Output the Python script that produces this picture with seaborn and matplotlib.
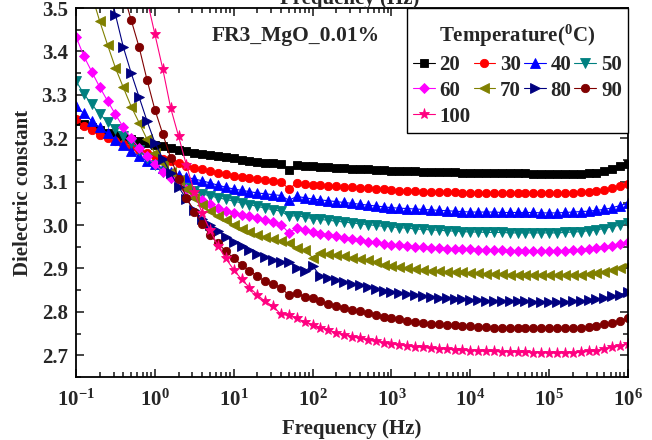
import numpy as np
import pandas as pd
import matplotlib
matplotlib.use('Agg')
import matplotlib.pyplot as plt
import seaborn as sns
from matplotlib.lines import Line2D
from matplotlib.ticker import LogLocator, MultipleLocator, FuncFormatter, NullFormatter

# frequency sweep of the analyser: 10 points per decade, 0.1 Hz .. 1 MHz
freq = np.logspace(-1, 6, 71)
decades = [1e-1, 1e0, 1e1, 1e2, 1e3, 1e4, 1e5, 1e6]

temps = ['20', '30', '40', '50', '60', '70', '80', '90', '100']

eps_20 = [3.240, 3.232, 3.225, 3.218, 3.213, 3.208, 3.203, 3.198, 3.193, 3.189,
          3.185, 3.181, 3.177, 3.173, 3.170, 3.167, 3.164, 3.161, 3.158, 3.156,
          3.154, 3.151, 3.148, 3.146, 3.144, 3.142, 3.140, 3.127, 3.139, 3.137,
          3.135, 3.134, 3.133, 3.132, 3.131, 3.130, 3.129, 3.128, 3.127, 3.126,
          3.125, 3.125, 3.124, 3.124, 3.123, 3.123, 3.123, 3.122, 3.122, 3.120,
          3.120, 3.120, 3.120, 3.120, 3.120, 3.120, 3.120, 3.119, 3.118, 3.117,
          3.117, 3.117, 3.117, 3.117, 3.118, 3.119, 3.121, 3.125, 3.130, 3.135,
          3.140]
eps_30 = [3.245, 3.228, 3.218, 3.208, 3.200, 3.193, 3.186, 3.180, 3.173, 3.166,
          3.160, 3.153, 3.147, 3.142, 3.137, 3.132, 3.128, 3.124, 3.120, 3.117,
          3.114, 3.111, 3.108, 3.105, 3.103, 3.101, 3.100, 3.083, 3.097, 3.095,
          3.093, 3.092, 3.090, 3.089, 3.088, 3.087, 3.086, 3.085, 3.084, 3.082,
          3.080, 3.079, 3.078, 3.078, 3.077, 3.077, 3.076, 3.076, 3.076, 3.075,
          3.075, 3.075, 3.074, 3.074, 3.074, 3.074, 3.073, 3.073, 3.073, 3.073,
          3.073, 3.073, 3.074, 3.075, 3.076, 3.077, 3.079, 3.081, 3.085, 3.089,
          3.094]
eps_40 = [3.274, 3.257, 3.240, 3.225, 3.211, 3.197, 3.184, 3.170, 3.158, 3.148,
          3.140, 3.131, 3.123, 3.116, 3.110, 3.106, 3.102, 3.097, 3.092, 3.087,
          3.083, 3.080, 3.077, 3.074, 3.072, 3.070, 3.068, 3.057, 3.066, 3.063,
          3.060, 3.058, 3.056, 3.054, 3.052, 3.050, 3.048, 3.046, 3.044, 3.042,
          3.040, 3.039, 3.038, 3.037, 3.036, 3.035, 3.034, 3.033, 3.032, 3.031,
          3.030, 3.030, 3.030, 3.030, 3.029, 3.029, 3.029, 3.029, 3.029, 3.028,
          3.028, 3.028, 3.029, 3.030, 3.031, 3.032, 3.034, 3.036, 3.040, 3.045,
          3.050]
eps_50 = [3.332, 3.302, 3.278, 3.256, 3.238, 3.222, 3.205, 3.190, 3.172, 3.155,
          3.138, 3.123, 3.108, 3.096, 3.086, 3.078, 3.072, 3.067, 3.063, 3.059,
          3.055, 3.051, 3.047, 3.043, 3.039, 3.035, 3.032, 3.020, 3.022, 3.018,
          3.015, 3.013, 3.011, 3.009, 3.007, 3.005, 3.003, 3.001, 2.999, 2.997,
          2.996, 2.994, 2.993, 2.991, 2.990, 2.989, 2.988, 2.987, 2.986, 2.985,
          2.984, 2.984, 2.983, 2.983, 2.983, 2.982, 2.982, 2.982, 2.982, 2.982,
          2.982, 2.982, 2.983, 2.984, 2.985, 2.987, 2.989, 2.992, 2.996, 3.000,
          3.005]
eps_60 = [3.434, 3.389, 3.353, 3.318, 3.286, 3.255, 3.225, 3.200, 3.178, 3.158,
          3.140, 3.123, 3.108, 3.094, 3.082, 3.070, 3.058, 3.048, 3.040, 3.033,
          3.028, 3.024, 3.020, 3.016, 3.012, 3.007, 3.001, 2.982, 2.993, 2.988,
          2.984, 2.980, 2.977, 2.974, 2.971, 2.968, 2.965, 2.962, 2.960, 2.957,
          2.955, 2.953, 2.951, 2.950, 2.949, 2.948, 2.947, 2.946, 2.945, 2.944,
          2.944, 2.943, 2.943, 2.942, 2.942, 2.941, 2.941, 2.940, 2.940, 2.940,
          2.940, 2.940, 2.941, 2.942, 2.943, 2.945, 2.947, 2.949, 2.952, 2.956,
          2.961]
eps_70 = [3.650, 3.590, 3.530, 3.470, 3.415, 3.362, 3.317, 3.273, 3.236, 3.198,
          3.166, 3.143, 3.123, 3.103, 3.084, 3.062, 3.046, 3.032, 3.021, 3.011,
          3.001, 2.992, 2.984, 2.978, 2.973, 2.968, 2.963, 2.959, 2.948, 2.942,
          2.925, 2.936, 2.933, 2.931, 2.928, 2.925, 2.922, 2.919, 2.914, 2.909,
          2.905, 2.903, 2.901, 2.899, 2.897, 2.895, 2.894, 2.893, 2.892, 2.891,
          2.890, 2.889, 2.888, 2.887, 2.887, 2.886, 2.886, 2.885, 2.885, 2.884,
          2.884, 2.884, 2.884, 2.885, 2.886, 2.888, 2.890, 2.893, 2.897, 2.902,
          2.907]
eps_80 = [3.950, 3.850, 3.750, 3.660, 3.570, 3.485, 3.410, 3.350, 3.295, 3.240,
          3.190, 3.153, 3.120, 3.088, 3.060, 3.034, 3.013, 3.000, 2.986, 2.973,
          2.962, 2.951, 2.943, 2.934, 2.927, 2.920, 2.915, 2.916, 2.900, 2.894,
          2.906, 2.882, 2.877, 2.873, 2.869, 2.865, 2.861, 2.857, 2.853, 2.849,
          2.846, 2.843, 2.841, 2.839, 2.837, 2.835, 2.833, 2.832, 2.830, 2.829,
          2.828, 2.827, 2.826, 2.826, 2.825, 2.825, 2.824, 2.824, 2.823, 2.823,
          2.823, 2.823, 2.823, 2.824, 2.825, 2.827, 2.829, 2.832, 2.836, 2.840,
          2.845]
eps_90 = [4.000, 3.910, 3.820, 3.740, 3.670, 3.600, 3.535, 3.472, 3.410, 3.335,
          3.266, 3.210, 3.155, 3.107, 3.063, 3.031, 3.003, 2.976, 2.958, 2.940,
          2.923, 2.908, 2.895, 2.882, 2.870, 2.864, 2.856, 2.838, 2.844, 2.834,
          2.831, 2.824, 2.819, 2.814, 2.810, 2.805, 2.801, 2.797, 2.793, 2.789,
          2.786, 2.783, 2.780, 2.777, 2.775, 2.773, 2.771, 2.770, 2.769, 2.768,
          2.767, 2.766, 2.765, 2.764, 2.764, 2.763, 2.763, 2.762, 2.762, 2.762,
          2.762, 2.762, 2.762, 2.763, 2.764, 2.766, 2.768, 2.771, 2.775, 2.780,
          2.785]
eps_100 = [4.240, 4.160, 4.080, 4.000, 3.920, 3.840, 3.760, 3.680, 3.600, 3.520,
           3.440, 3.360, 3.270, 3.205, 3.138, 3.077, 3.027, 2.988, 2.952, 2.923,
           2.897, 2.875, 2.856, 2.839, 2.824, 2.813, 2.794, 2.792, 2.785, 2.777,
           2.770, 2.764, 2.758, 2.752, 2.747, 2.743, 2.739, 2.735, 2.732, 2.729,
           2.727, 2.724, 2.722, 2.720, 2.718, 2.716, 2.715, 2.714, 2.713, 2.712,
           2.711, 2.710, 2.709, 2.709, 2.708, 2.708, 2.707, 2.707, 2.706, 2.706,
           2.705, 2.705, 2.705, 2.706, 2.707, 2.709, 2.711, 2.714, 2.718, 2.722,
           2.727]

series = [eps_20, eps_30, eps_40, eps_50, eps_60, eps_70, eps_80, eps_90, eps_100]

colors = ['#000000', '#FF0000', '#0000FF', '#008080', '#FF00FF',
          '#808000', '#000080', '#800000', '#FF0080']
markers = ['s', 'o', '^', 'v', 'D', '<', '>', 'o', '*']
msizes = [5.5, 6, 6.5, 6.5, 5, 6.5, 6.5, 6, 8]

sns.set_theme(style='ticks')
# fonts after set_theme, it resets them
plt.rcParams['font.family'] = ['Liberation Serif', 'DejaVu Serif']
plt.rcParams['font.weight'] = 'bold'
plt.rcParams['mathtext.fontset'] = 'custom'
plt.rcParams['mathtext.rm'] = 'Liberation Serif:bold'
plt.rcParams['mathtext.bf'] = 'Liberation Serif:bold'
plt.rcParams['mathtext.it'] = 'Liberation Serif:bold:italic'

df = pd.DataFrame({
    'freq': np.tile(freq, len(temps)),
    'eps': np.concatenate(series),
    'temp': np.repeat(temps, len(freq)),
})

fig = plt.figure(figsize=(6.52, 4.4), dpi=100)
ax = fig.add_axes([76 / 652, 1 - 377 / 440, (628 - 76) / 652, (377 - 8) / 440])
ax.set_xscale('log')

sns.lineplot(data=df, x='freq', y='eps', hue='temp', style='temp',
             hue_order=temps, style_order=temps,
             palette=dict(zip(temps, colors)), markers=dict(zip(temps, markers)),
             dashes=False, estimator=None, sort=False, linewidth=0.8,
             legend=False, ax=ax)

# give the markers solid edges in the line colour (seaborn uses white)
for ln, ms in zip(ax.lines, msizes):
    ln.set_markeredgecolor(ln.get_color())
    ln.set_markeredgewidth(0.6)
    ln.set_markersize(ms)

ax.set_xlim(0.1, 1e6)
ax.set_ylim(2.65, 3.5)

ax.set_xticks(decades)
ax.xaxis.set_minor_locator(LogLocator(base=10, subs=np.arange(2, 10), numticks=20))
ax.xaxis.set_minor_formatter(NullFormatter())
ax.xaxis.set_major_formatter(FuncFormatter(lambda v, p: r'10$^{\mathbf{%d}}$' % round(np.log10(v))))
ax.yaxis.set_major_locator(MultipleLocator(0.1))
ax.yaxis.set_minor_locator(MultipleLocator(0.05))
ax.yaxis.set_major_formatter(FuncFormatter(lambda v, p: '%.1f' % v))

ax.tick_params(which='both', direction='in', top=True, right=True, width=1.2,
               labelsize=15)
ax.tick_params(axis='x', pad=9)
ax.tick_params(axis='y', pad=6)
ax.tick_params(which='major', length=6)
ax.tick_params(which='minor', length=3.5)
for sp in ax.spines.values():
    sp.set_linewidth(1.3)
    sp.set_color('black')

ax.set_xlabel('Frequency (Hz)', fontsize=15, fontweight='bold', labelpad=6)
ax.set_ylabel('Dielectric constant', fontsize=15, fontweight='bold', labelpad=6)

ax.text(296 / 652, 1 - 36 / 440, 'FR3_MgO_0.01%', transform=fig.transFigure,
        ha='center', va='center', fontsize=15.5, fontweight='bold')
# the top axis title of the original figure is cut off at the top edge
fig.text(350 / 652, 1 - 4 / 440, 'Frequency (Hz)', ha='center', va='baseline',
         fontsize=15, fontweight='bold')

handles = [Line2D([], [], color=c, marker=m, lw=0.8, ms=ms, mec=c, mew=0.6)
           for c, m, ms in zip(colors, markers, msizes)]
order = [0, 4, 8, 1, 5, 2, 6, 3, 7]  # row-wise reading in a 4 column legend
# leading blank line gives the title some extra room above it
leg = ax.legend([handles[k] for k in order], [temps[k] for k in order],
                ncol=4, loc='upper right', bbox_to_anchor=(1, 1), borderaxespad=0,
                title='\n' + r'Temperature($\mathbf{^{0}}$C)', frameon=True, fancybox=False,
                edgecolor='black', framealpha=1, handlelength=1.05, handletextpad=0.22,
                columnspacing=0.15, labelspacing=0.28, borderpad=0.3,
                prop={'size': 15, 'weight': 'bold'},
                title_fontproperties={'size': 15, 'weight': 'bold'})
leg.get_title().set_linespacing(0.4)
leg.get_frame().set_linewidth(1.0)

fig.savefig('out.png', dpi=100)
